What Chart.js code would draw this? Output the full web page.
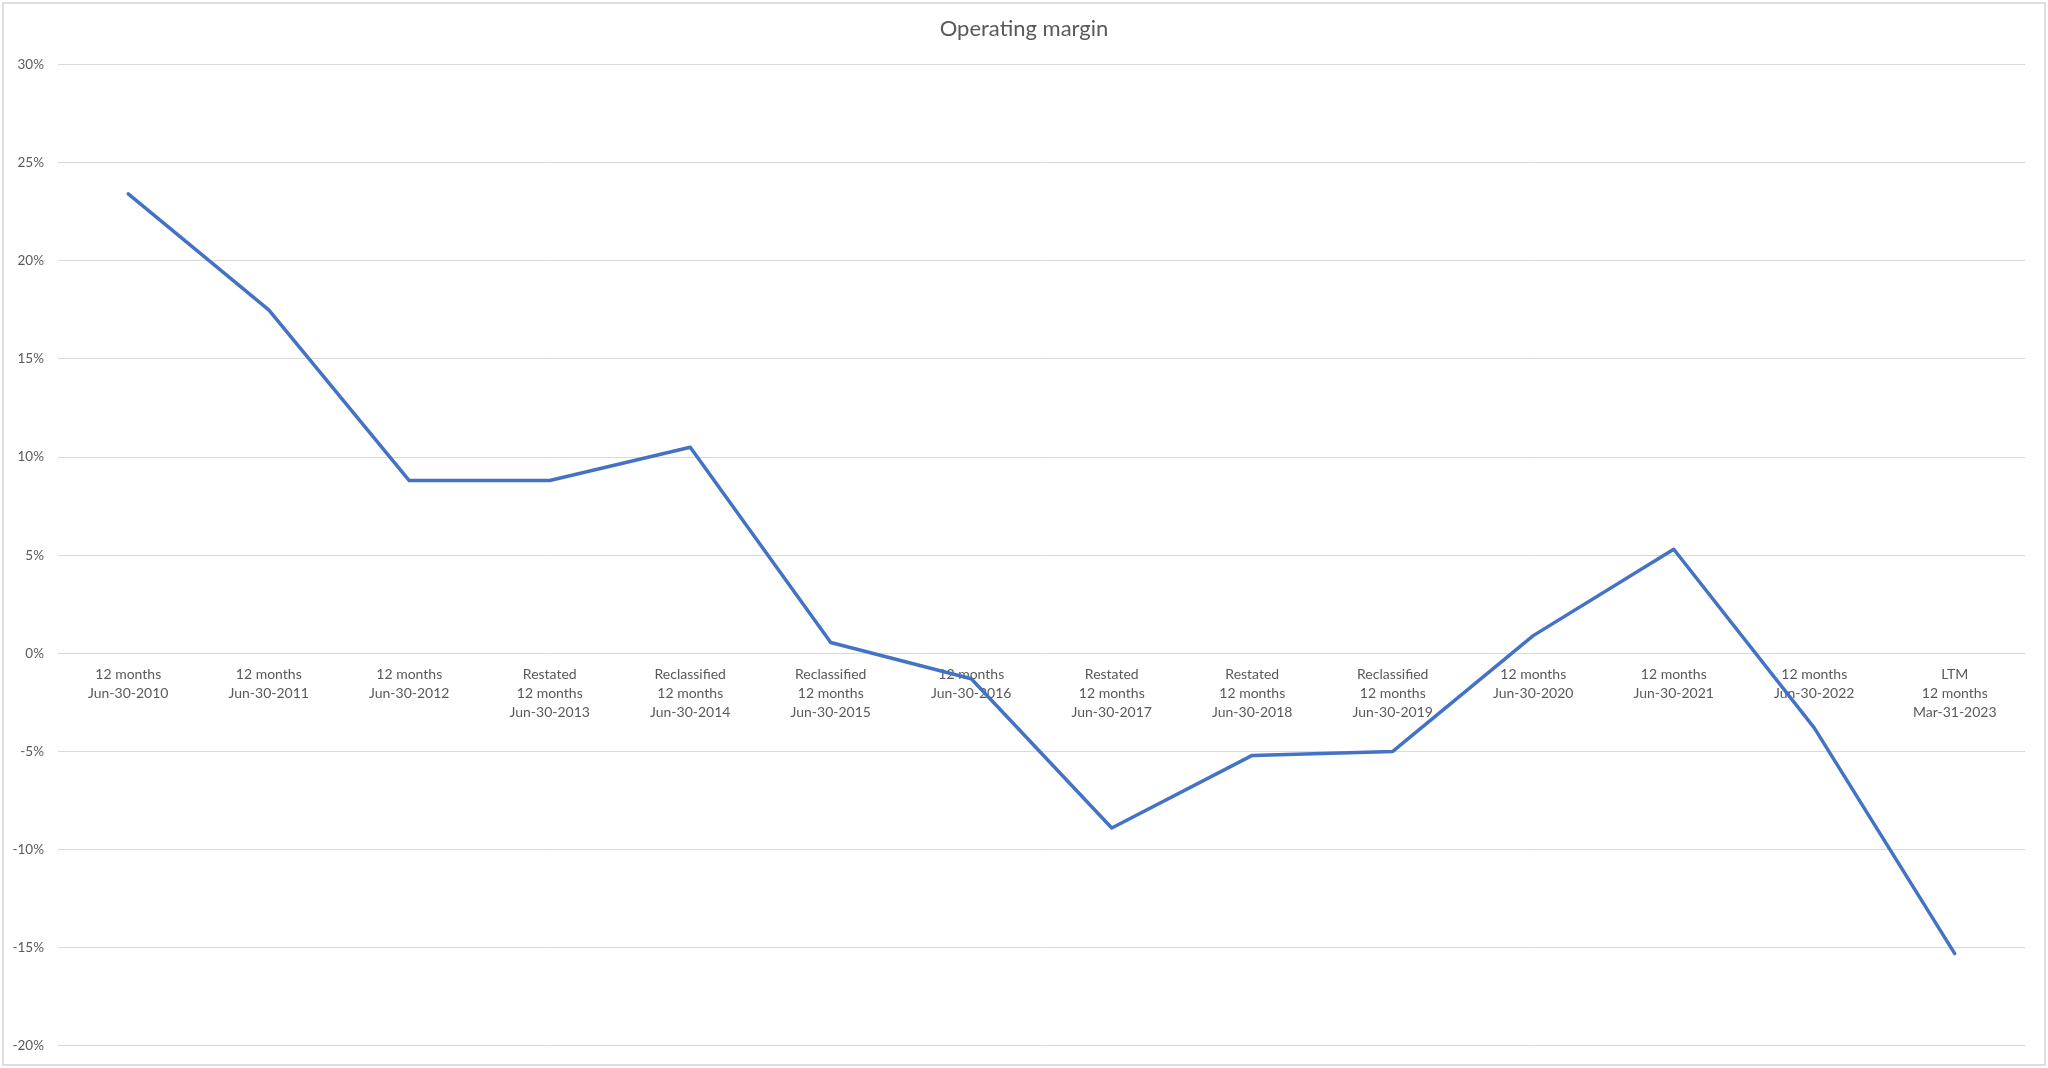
<!DOCTYPE html>
<html>
<head>
<meta charset="utf-8">
<title>Operating margin</title>
<script src="https://cdn.jsdelivr.net/npm/chart.js@4.4.1/dist/chart.umd.min.js"></script>
<style>
  html, body { margin: 0; padding: 0; background: #ffffff; }
  #wrap { position: absolute; left: 0; top: 0; width: 2048px; height: 1068px; }
  #frame { position: absolute; left: 2px; top: 2px; width: 2040px; height: 1060px;
           border: 2px solid #dedede; pointer-events: none; }
</style>
</head>
<body>
<div id="wrap"><canvas id="marginChart"></canvas></div>
<div id="frame"></div>
<script>
// categories (multi-line axis labels)
var periods = [
    ['12 months', 'Jun-30-2010'],
    ['12 months', 'Jun-30-2011'],
    ['12 months', 'Jun-30-2012'],
    ['Restated', '12 months', 'Jun-30-2013'],
    ['Reclassified', '12 months', 'Jun-30-2014'],
    ['Reclassified', '12 months', 'Jun-30-2015'],
    ['12 months', 'Jun-30-2016'],
    ['Restated', '12 months', 'Jun-30-2017'],
    ['Restated', '12 months', 'Jun-30-2018'],
    ['Reclassified', '12 months', 'Jun-30-2019'],
    ['12 months', 'Jun-30-2020'],
    ['12 months', 'Jun-30-2021'],
    ['12 months', 'Jun-30-2022'],
    ['LTM', '12 months', 'Mar-31-2023']
];

// operating margin, percent
var operatingMargin = [23.4, 17.5, 8.8, 8.8, 10.5, 0.55, -1.3, -8.9, -5.2, -5.0, 0.9, 5.3, -3.8, -15.3];

// y axis range / ticks (percent)
var yMin = -20;
var yMax = 30;
var yStep = 5;

document.addEventListener('DOMContentLoaded', function() {
    var textGray = '#595959';
    var fontFamily = 'Lato, "Open Sans", sans-serif';

    var ctx = document.getElementById('marginChart').getContext('2d');
    var marginChart = new Chart(ctx, {
        type: 'line',
        data: {
            labels: periods,
            datasets: [{
                label: 'Operating margin',
                data: operatingMargin,
                borderColor: '#4472C4',
                borderWidth: 3.5,
                borderJoinStyle: 'round',
                borderCapStyle: 'round',
                pointRadius: 0,
                tension: 0,
                fill: false
            }]
        },
        options: {
            responsive: true,
            maintainAspectRatio: false,
            animation: false,
            layout: {
                padding: { left: 0, right: 0, top: 0, bottom: 22 }
            },
            plugins: {
                legend: { display: false },
                tooltip: { enabled: false },
                title: {
                    display: true,
                    text: 'Operating margin',
                    color: textGray,
                    font: { family: fontFamily, size: 22, weight: 'normal' },
                    padding: { top: 16, bottom: 22 }
                }
            },
            scales: {
                x: {
                    position: { y: 0 },
                    offset: true,
                    grid: { display: false, drawTicks: false },
                    border: { display: false },
                    ticks: {
                        color: textGray,
                        font: { family: fontFamily, size: 14, lineHeight: 1.35 },
                        padding: 12,
                        maxRotation: 0,
                        autoSkip: false
                    }
                },
                y: {
                    min: yMin,
                    max: yMax,
                    grid: { color: '#d9d9d9', lineWidth: 1, drawTicks: false },
                    border: { display: false },
                    ticks: {
                        stepSize: yStep,
                        color: textGray,
                        font: { family: fontFamily, size: 13.5 },
                        padding: 14,
                        callback: function(v) { return v + '%'; }
                    },
                    afterFit: function(scale) { scale.width = 58; }
                },
                // empty right margin so the plot ends where the original's does
                yRight: {
                    type: 'linear',
                    position: 'right',
                    grid: { display: false, drawTicks: false },
                    border: { display: false },
                    ticks: { display: false },
                    afterFit: function(scale) { scale.width = 23; }
                }
            }
        }
    });
});
</script>
</body>
</html>
